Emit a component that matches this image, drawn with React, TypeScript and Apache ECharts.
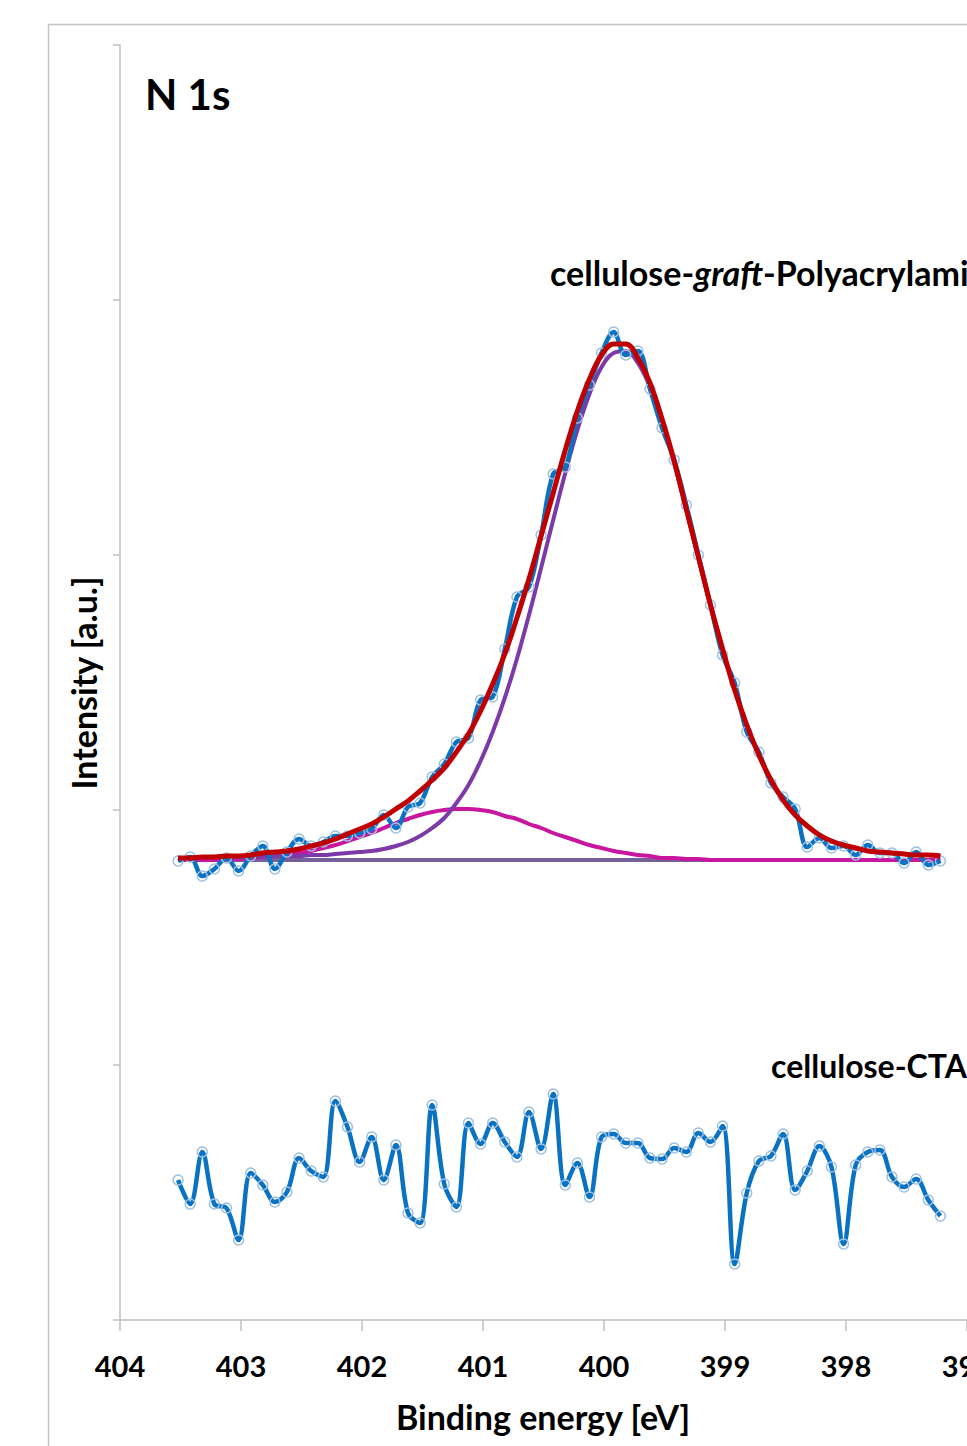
import React, { useEffect, useRef } from "react";
import * as echarts from "echarts";

// Sampling grid (binding energy, eV): 64 points, 0.1 eV apart
const energyStart = 403.52;
const energyStep = 0.1;
const energies: number[] = Array.from({ length: 64 }, (_, i) => +(energyStart - energyStep * i).toFixed(2));

// cellulose-graft-Polyacrylamide: measured spectrum
const graftData = [
  459, 463, 444, 451, 462, 449, 464, 474, 451, 468,
  481, 474, 478, 484, 484, 487, 491, 505, 492, 513,
  517, 543, 556, 578, 582, 620, 623, 671, 723, 733,
  785, 846, 853, 902, 935, 967, 988, 965, 969, 931,
  892, 860, 815, 765, 715, 665, 637, 588, 568, 537,
  523, 511, 473, 482, 472, 474, 465, 475, 467, 467,
  457, 468, 455, 459,
];

// fitted envelope (red)
const envelopeFit = [
  462, 462, 463, 463, 464, 464, 465, 467, 468, 469,
  471, 474, 477, 481, 486, 491, 496, 503, 511, 519,
  529, 540, 552, 568, 586, 609, 636, 666, 702, 741,
  784, 827, 870, 909, 941, 965, 976, 976, 962, 937,
  901, 859, 811, 763, 715, 671, 630, 595, 565, 540,
  520, 505, 494, 485, 479, 475, 472, 469, 468, 467,
  466, 465, 465, 464,
];

// main component (purple)
const mainComponent = [
  462, 462, 463, 463, 463, 463, 463, 464, 464, 464,
  464, 465, 465, 466, 467, 468, 469, 471, 474, 478,
  484, 492, 502, 517, 535, 559, 588, 622, 661, 705,
  752, 800, 847, 890, 926, 953, 967, 969, 957, 933,
  899, 857, 810, 762, 715, 671, 630, 595, 565, 540,
  520, 505, 494, 485, 479, 475, 472, 469, 468, 467,
  466, 465, 465, 464,
];

// minor component (magenta)
const minorComponent = [
  460, 460, 460, 460, 461, 461, 462, 463, 464, 465,
  467, 469, 472, 475, 479, 483, 487, 492, 497, 501,
  505, 508, 510, 511, 511, 510, 508, 504, 501, 496,
  492, 487, 483, 479, 475, 472, 469, 467, 465, 464,
  462, 462, 461, 461, 460, 460, 460, 460, 460, 460,
  460, 460, 460, 460, 460, 460, 460, 460, 460, 460,
  460, 460, 460, 460,
];

// background (flat)
const backgroundLevel = 460;

// cellulose-CTA: measured spectrum
const ctaData = [
  140, 116, 168, 116, 112, 80, 147, 135, 118, 128,
  162, 149, 143, 219, 193, 158, 183, 140, 175, 107,
  97, 215, 136, 113, 197, 176, 197, 178, 163, 208,
  171, 226, 135, 157, 123, 183, 186, 177, 177, 162,
  161, 172, 168, 187, 178, 194, 56, 127, 159, 164,
  186, 130, 149, 174, 153, 76, 155, 168, 170, 143,
  133, 141, 120, 104,
];

const xTicks = { min: 397, max: 404, interval: 1 };
const yTicks = { min: 0, max: 1275, interval: 255 };

const FONT = "Lato, 'Open Sans', sans-serif";

const pairs = (vals: number[]) => energies.map((e, i) => [e, vals[i]]);

export default function App() {
  const ref = useRef<HTMLDivElement>(null);
  useEffect(() => {
    if (!ref.current) return;
    const chart = echarts.init(ref.current, null, { renderer: "svg" });
    const axisColor = "#bfbfbf";
    const markerStyle = {
      color: "rgba(255,255,255,0)",
      borderColor: "#9cc0e4",
      borderWidth: 1.5,
    };
    chart.setOption({
      animation: false,
      backgroundColor: "#ffffff",
      grid: {
        left: 120,
        right: 0,
        top: 45,
        bottom: 126,
        containLabel: false,
        outerBoundsMode: "none",
      },
      xAxis: {
        type: "value",
        inverse: true,
        min: xTicks.min,
        max: xTicks.max,
        interval: xTicks.interval,
        axisLine: { show: true, onZero: false, lineStyle: { color: axisColor, width: 1.5 } },
        axisTick: { show: true, length: 11, lineStyle: { color: axisColor, width: 1.5 } },
        splitLine: { show: false },
        axisLabel: {
          margin: 31,
          color: "#000",
          fontFamily: FONT,
          fontWeight: "bold",
          fontSize: 29,
          showMinLabel: true,
          showMaxLabel: true,
          hideOverlap: false,
        },
      },
      yAxis: {
        type: "value",
        min: yTicks.min,
        max: yTicks.max,
        interval: yTicks.interval,
        axisLine: { show: true, lineStyle: { color: axisColor, width: 1.5 } },
        axisTick: { show: true, length: 7, lineStyle: { color: axisColor, width: 1.5 } },
        axisLabel: { show: false },
        splitLine: { show: false },
      },
      graphic: [
        {
          type: "rect",
          shape: { x: 48.5, y: 24.5, width: 1200, height: 1600 },
          style: { fill: "none", stroke: "#c4c4c4", lineWidth: 1.5 },
          silent: true,
          z: -10,
        },
        {
          type: "text",
          x: 145,
          y: 94,
          style: { text: "N 1s", font: `bold 42px ${FONT}`, fill: "#000", verticalAlign: "middle", align: "left" },
        },
        {
          type: "text",
          x: 550,
          y: 272,
          style: {
            text: "{a|cellulose-}{g|graft}{a|-Polyacrylamide}",
            verticalAlign: "middle",
            align: "left",
            rich: {
              a: { fontFamily: FONT, fontWeight: "bold", fontSize: 34, fill: "#000" },
              g: { fontFamily: FONT, fontWeight: "bold", fontStyle: "italic", fontSize: 34, fill: "#000" },
            },
          },
        },
        {
          type: "text",
          x: 771,
          y: 1065,
          style: {
            text: "cellulose-CTA",
            font: `bold 32px ${FONT}`,
            fill: "#000",
            verticalAlign: "middle",
            align: "left",
          },
        },
        {
          type: "text",
          x: 543,
          y: 1416,
          style: {
            text: "Binding energy [eV]",
            font: `bold 34px ${FONT}`,
            fill: "#000",
            align: "center",
            verticalAlign: "middle",
          },
        },
        {
          type: "text",
          x: 83,
          y: 683,
          rotation: Math.PI / 2,
          style: {
            text: "Intensity [a.u.]",
            font: `bold 34px ${FONT}`,
            fill: "#000",
            align: "center",
            verticalAlign: "middle",
          },
        },
      ],
      series: [
        {
          name: "background",
          type: "line",
          data: [[energies[0], backgroundLevel], [energies[energies.length - 1], backgroundLevel]],
          showSymbol: false,
          lineStyle: { color: "#76609a", width: 4 },
          z: 1,
          silent: true,
        },
        {
          name: "minor",
          type: "line",
          data: pairs(minorComponent),
          smooth: 0.4,
          showSymbol: false,
          lineStyle: { color: "#c8169e", width: 4 },
          z: 2,
          silent: true,
        },
        {
          name: "main",
          type: "line",
          data: pairs(mainComponent),
          smooth: 0.4,
          showSymbol: false,
          lineStyle: { color: "#7b3aa8", width: 4 },
          z: 3,
          silent: true,
        },
        {
          name: "graft",
          type: "line",
          data: pairs(graftData),
          smooth: 0.35,
          symbol: "circle",
          symbolSize: 10,
          showSymbol: true,
          showAllSymbol: true,
          lineStyle: { color: "#0a72c2", width: 4.5 },
          itemStyle: markerStyle,
          z: 4,
          silent: true,
        },
        {
          name: "envelope",
          type: "line",
          data: pairs(envelopeFit),
          smooth: 0.4,
          showSymbol: false,
          lineStyle: { color: "#c00000", width: 5 },
          z: 5,
          silent: true,
        },
        {
          name: "cta",
          type: "line",
          data: pairs(ctaData),
          smooth: 0.35,
          symbol: "circle",
          symbolSize: 10,
          showSymbol: true,
          showAllSymbol: true,
          lineStyle: { color: "#0a72c2", width: 4.5 },
          itemStyle: markerStyle,
          z: 4,
          silent: true,
        },
      ],
    });
    return () => chart.dispose();
  }, []);
  return (
    <div
      ref={ref}
      style={{ position: "absolute", left: 0, top: 0, width: 967, height: 1446, background: "#fff" }}
    />
  );
}
